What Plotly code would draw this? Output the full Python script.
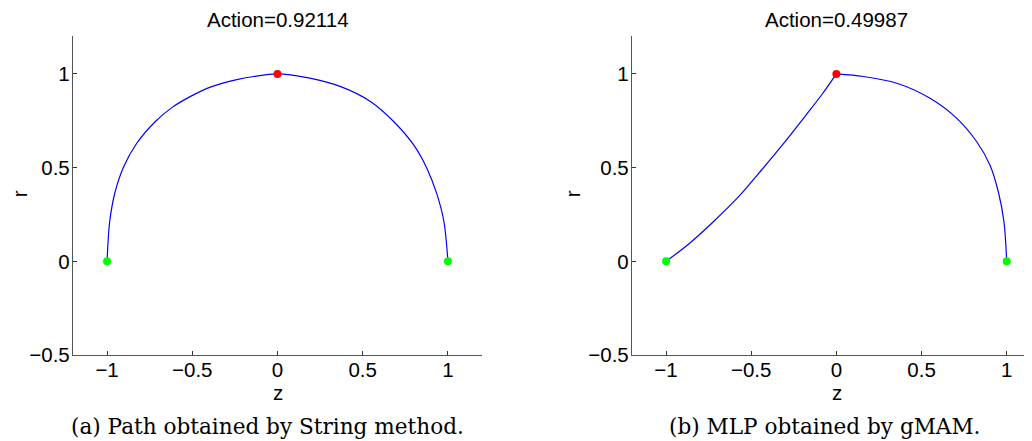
import plotly.graph_objects as go

# ---- data ----
# (a) String method path (z, r)
string_z = [-1.0, -0.985, -0.953, -0.905, -0.826, -0.718, -0.62, -0.51, -0.386, -0.245, -0.14, 0.0,
            0.175, 0.371, 0.547, 0.683, 0.80, 0.875, 0.935, 0.977, 1.0]
string_r = [0.0, 0.21, 0.37, 0.50, 0.63, 0.745, 0.82, 0.88, 0.932, 0.968, 0.986, 1.0,
            0.98, 0.932, 0.852, 0.745, 0.62, 0.50, 0.36, 0.21, 0.0]
# (b) gMAM minimum-action path: branch up to the saddle, then down to the other minimum
gmam_up_z = [-1.0, -0.867, -0.73, -0.574, -0.437, -0.30, -0.183, -0.085, 0.0]
gmam_up_r = [0.0, 0.093, 0.205, 0.345, 0.49, 0.64, 0.775, 0.89, 1.0]
gmam_down_z = [0.0, 0.159, 0.355, 0.55, 0.707, 0.824, 0.902, 0.951, 0.984, 1.0]
gmam_down_r = [1.0, 0.986, 0.95, 0.87, 0.763, 0.638, 0.513, 0.37, 0.21, 0.0]
saddle_z = [0.0]
saddle_r = [1.0]
minima_z = [-1.0, 1.0]
minima_r = [0.0, 0.0]

titles = ["Action=0.92114", "Action=0.49987"]
captions = ["(a) Path obtained by String method.", "(b) MLP obtained by gMAM."]
x_ticks = [-1, -0.5, 0, 0.5, 1]
x_ticktext = ["\u22121", "\u22120.5", "0", "0.5", "1"]
y_ticks = [-0.5, 0, 0.5, 1]
y_ticktext = ["\u22120.5", "0", "0.5", "1"]

# page body has an 8px margin; the capture is also slightly squeezed vertically
OFF = 8
SY = 0.97
W, H = 1032 - 2 * OFF, 445


def px(x):
    return (x - OFF) / W


def py(y):
    return 1 - (y / SY - OFF) / H


fig = go.Figure()
line = dict(color="#0000ff", width=1.2, shape="spline", smoothing=0.9)

fig.add_trace(go.Scatter(x=string_z, y=string_r, mode="lines", line=line,
                         xaxis="x", yaxis="y", showlegend=False))
fig.add_trace(go.Scatter(x=gmam_up_z, y=gmam_up_r, mode="lines", line=line,
                         xaxis="x2", yaxis="y2", showlegend=False))
fig.add_trace(go.Scatter(x=gmam_down_z, y=gmam_down_r, mode="lines", line=line,
                         xaxis="x2", yaxis="y2", showlegend=False))
for xa, ya in [("x", "y"), ("x2", "y2")]:
    fig.add_trace(go.Scatter(x=minima_z, y=minima_r, mode="markers",
                             marker=dict(color="#00ff00", size=8), xaxis=xa, yaxis=ya, showlegend=False))
    fig.add_trace(go.Scatter(x=saddle_z, y=saddle_r, mode="markers",
                             marker=dict(color="#ff0000", size=8), xaxis=xa, yaxis=ya, showlegend=False))

FS = 20.5
tickfont = dict(family="Liberation Sans, Arial, sans-serif", size=FS, color="black")
axis_common = dict(showgrid=False, zeroline=False, showline=True, linecolor="#555555", linewidth=1.3,
                   ticks="inside", ticklen=4, tickcolor="#333333", tickwidth=1, tickfont=tickfont)

y_dom = [py(353), py(36)]
fig.update_layout(
    width=W, height=H, margin=dict(l=0, r=0, t=0, b=0),
    paper_bgcolor="white", plot_bgcolor="white",
    xaxis=dict(domain=[px(73), px(482)], range=[-1.2, 1.2], tickvals=x_ticks, ticktext=x_ticktext,
               anchor="y", ticklabelstandoff=-4, **axis_common),
    yaxis=dict(domain=y_dom, range=[-0.5, 1.2], tickvals=y_ticks, ticktext=y_ticktext,
               anchor="x", ticklabelstandoff=-2, **axis_common),
    xaxis2=dict(domain=[px(632), 1.0], range=[-1.2, 1.1015], tickvals=x_ticks, ticktext=x_ticktext,
                anchor="y2", ticklabelstandoff=-4, **axis_common),
    yaxis2=dict(domain=y_dom, range=[-0.5, 1.2], tickvals=y_ticks, ticktext=y_ticktext,
                anchor="x2", ticklabelstandoff=-2, **axis_common),
)

sans = dict(family="Liberation Sans, Arial, sans-serif", size=FS, color="black")
serif = dict(family="DejaVu Serif, serif", size=21.6, color="black")
title_x = [277.5, 836.5]
caption_x = [267, 824.5]
ylabel_x = [19, 572]
annotations = []
for i in range(2):
    annotations.append(dict(text=titles[i], x=px(title_x[i]), y=py(19.5), xref="paper", yref="paper",
                            xanchor="center", yanchor="middle", showarrow=False, font=sans))
    annotations.append(dict(text="z", x=px(title_x[i]), y=py(390.5), xref="paper", yref="paper",
                            xanchor="center", yanchor="middle", showarrow=False, font=sans))
    annotations.append(dict(text="r", x=px(ylabel_x[i]), y=py(193), xref="paper", yref="paper",
                            xanchor="center", yanchor="middle", showarrow=False, font=sans, textangle=-90))
    annotations.append(dict(text=captions[i], x=px(caption_x[i]), y=py(424), xref="paper", yref="paper",
                            xanchor="center", yanchor="middle", showarrow=False, font=serif))
fig.update_layout(annotations=annotations)

fig.write_html("out.html")
